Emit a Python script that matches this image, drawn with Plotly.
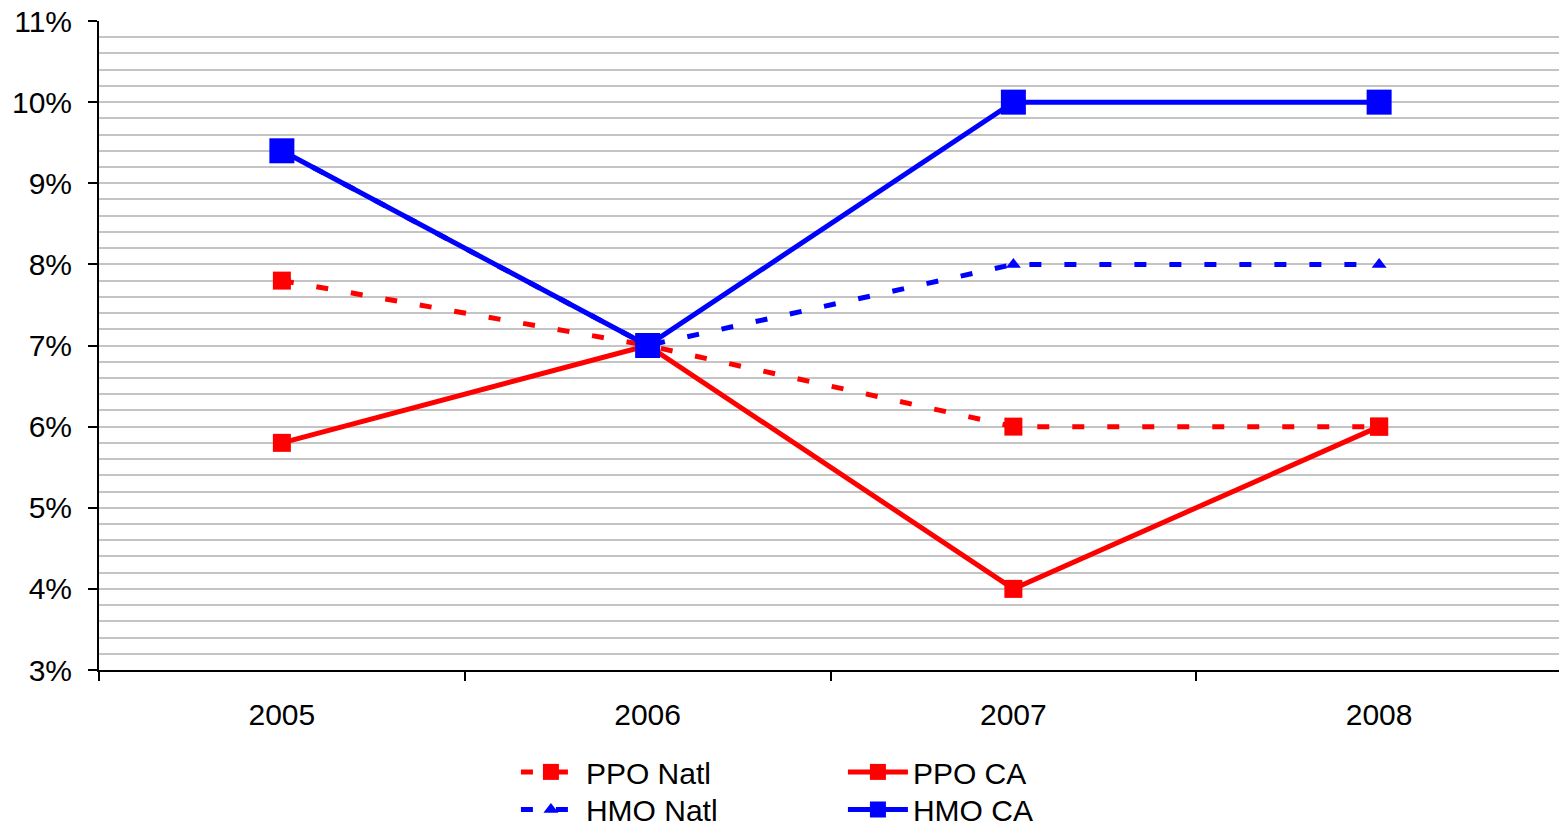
import plotly.graph_objects as go

years = ["2005", "2006", "2007", "2008"]
ppo_natl = [7.8, 7.0, 6.0, 6.0]
ppo_ca = [5.8, 7.0, 4.0, 6.0]
hmo_natl = [9.4, 7.0, 8.0, 8.0]
hmo_ca = [9.4, 7.0, 10.0, 10.0]

RED = "#ff0000"
BLUE = "#0000ff"
DASH = "12px,23px"
GRID = "#c4c4c4"

fig = go.Figure()
fig.add_trace(go.Scatter(
    x=years, y=ppo_natl, name="PPO Natl", mode="lines+markers",
    line=dict(color=RED, width=5, dash=DASH),
    marker=dict(symbol="square", size=18, color=RED), legend="legend",
))
fig.add_trace(go.Scatter(
    x=years, y=hmo_natl, name="HMO Natl", mode="lines+markers",
    line=dict(color=BLUE, width=5, dash=DASH),
    marker=dict(symbol="triangle-up", size=13, color=BLUE), legend="legend2",
))
fig.add_trace(go.Scatter(
    x=years, y=ppo_ca, name="PPO CA", mode="lines+markers",
    line=dict(color=RED, width=5),
    marker=dict(symbol="square", size=18, color=RED), legend="legend",
))
fig.add_trace(go.Scatter(
    x=years, y=hmo_ca, name="HMO CA", mode="lines+markers",
    line=dict(color=BLUE, width=5),
    marker=dict(symbol="square", size=25, color=BLUE), legend="legend2",
))

legend_style = dict(
    orientation="h", xref="container", yref="container",
    xanchor="left", yanchor="middle",
    font=dict(size=30, color="black"), entrywidth=252,
    bgcolor="rgba(0,0,0,0)", tracegroupgap=0, itemwidth=60,
)

# the page adds an 8px body margin, so the figure is sized to fit inside it
fig.update_layout(
    width=1559, height=817,
    margin=dict(l=91, r=5, t=13, b=155, autoexpand=False),
    plot_bgcolor="white", paper_bgcolor="white",
    font=dict(family="Liberation Sans, Arial, sans-serif", size=30, color="black"),
    legend=dict(x=0.3258, y=0.065, **legend_style),
    legend2=dict(x=0.3258, y=0.019, **legend_style),
    xaxis=dict(
        type="category", range=[-0.5, 3.5], automargin=False,
        showline=True, linecolor="black", linewidth=2,
        ticks="outside", tickson="boundaries", ticklen=9, tickwidth=2, tickcolor="black",
        showgrid=False, ticklabelstandoff=17, tickfont=dict(size=30),
    ),
    yaxis=dict(
        range=[3, 11], dtick=1, ticksuffix="%", automargin=False,
        ticklabeloverflow="allow",
        showline=True, linecolor="black", linewidth=2,
        ticks="outside", ticklen=9, tickwidth=2, tickcolor="black",
        showgrid=True, gridcolor=GRID, gridwidth=2,
        minor=dict(dtick=0.2, showgrid=True, gridcolor=GRID, gridwidth=2),
        zeroline=False, ticklabelstandoff=10, tickfont=dict(size=30),
    ),
)

fig.write_html("out.html")
